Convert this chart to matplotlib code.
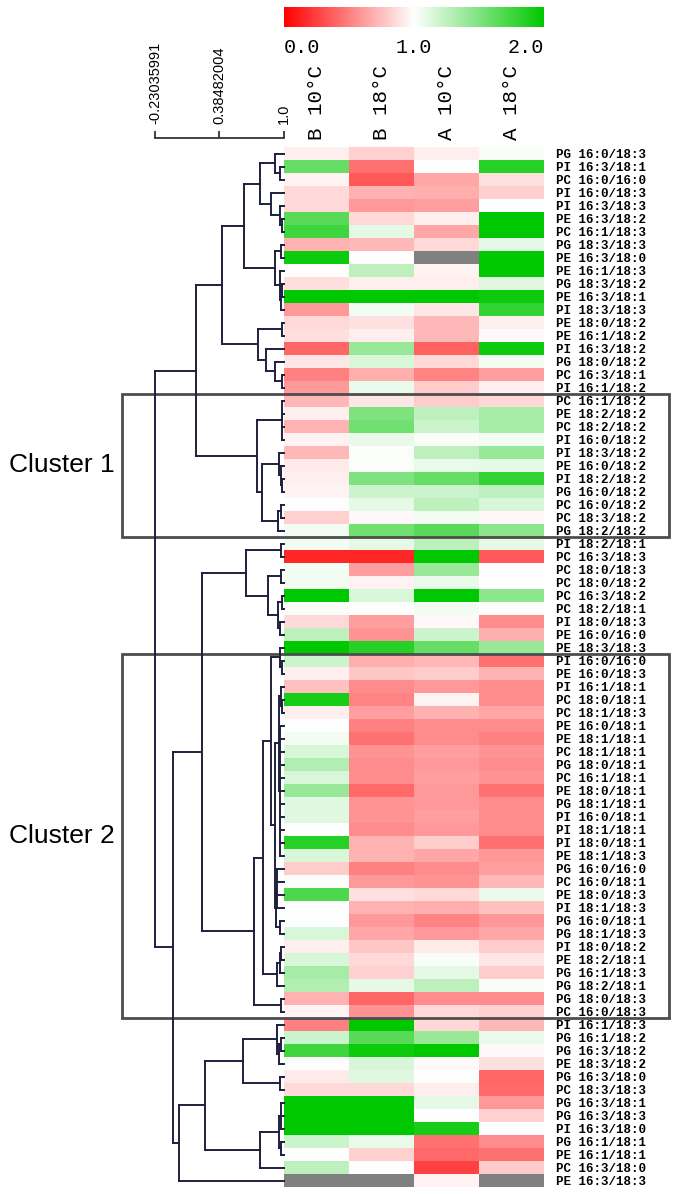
import numpy as np
import matplotlib
matplotlib.use('Agg')
import matplotlib.pyplot as plt
import matplotlib.transforms as mtransforms
from matplotlib.colors import LinearSegmentedColormap, Normalize
from matplotlib.cm import ScalarMappable
from matplotlib.collections import LineCollection
from matplotlib.patches import Rectangle

plt.rcParams['font.family'] = ['Liberation Sans', 'DejaVu Sans']

nan = np.nan
W, H = 675, 1194

# column (sample) labels and row (lipid species) labels, top to bottom
columns = ['B 10°C', 'B 18°C', 'A 10°C', 'A 18°C']
lipids = [
    'PG 16:0/18:3', 'PI 16:3/18:1', 'PC 16:0/16:0', 'PI 16:0/18:3', 'PI 16:3/18:3',
    'PE 16:3/18:2', 'PC 16:1/18:3', 'PG 18:3/18:3', 'PE 16:3/18:0', 'PE 16:1/18:3',
    'PG 18:3/18:2', 'PE 16:3/18:1', 'PI 18:3/18:3', 'PE 18:0/18:2', 'PE 16:1/18:2',
    'PI 16:3/18:2', 'PG 18:0/18:2', 'PC 16:3/18:1', 'PI 16:1/18:2',
    'PC 16:1/18:2', 'PE 18:2/18:2', 'PC 18:2/18:2', 'PI 16:0/18:2', 'PI 18:3/18:2',
    'PE 16:0/18:2', 'PI 18:2/18:2', 'PG 16:0/18:2', 'PC 16:0/18:2', 'PC 18:3/18:2',
    'PG 18:2/18:2',
    'PI 18:2/18:1', 'PC 16:3/18:3', 'PC 18:0/18:3', 'PC 18:0/18:2', 'PC 16:3/18:2',
    'PC 18:2/18:1', 'PI 18:0/18:3', 'PE 16:0/16:0', 'PE 18:3/18:3',
    'PI 16:0/16:0', 'PE 16:0/18:3', 'PI 16:1/18:1', 'PC 18:0/18:1', 'PC 18:1/18:3',
    'PE 16:0/18:1', 'PE 18:1/18:1', 'PC 18:1/18:1', 'PG 18:0/18:1', 'PC 16:1/18:1',
    'PE 18:0/18:1', 'PG 18:1/18:1', 'PI 16:0/18:1', 'PI 18:1/18:1', 'PI 18:0/18:1',
    'PE 18:1/18:3', 'PG 16:0/16:0', 'PC 16:0/18:1', 'PE 18:0/18:3', 'PI 18:1/18:3',
    'PG 16:0/18:1', 'PG 18:1/18:3', 'PI 18:0/18:2', 'PE 18:2/18:1', 'PG 16:1/18:3',
    'PG 18:2/18:1', 'PG 18:0/18:3', 'PC 16:0/18:3',
    'PI 16:1/18:3', 'PG 16:1/18:2', 'PG 16:3/18:2', 'PE 18:3/18:2', 'PG 16:3/18:0',
    'PC 18:3/18:3', 'PG 16:3/18:1', 'PG 16:3/18:3', 'PI 16:3/18:0', 'PG 16:1/18:1',
    'PE 16:1/18:1', 'PC 16:3/18:0', 'PE 16:3/18:3',
]

# relative levels per sample (0 = red, 1 = white, 2 = green, nan = grey)
b10 = [0.93, 1.6, 0.95, 0.85, 0.85, 1.65, 1.75, 0.7, 1.95, 1.0,
       0.87, 2.0, 0.6, 0.85, 0.87, 0.4, 0.9, 0.5, 0.6,
       0.72, 0.93, 0.7, 0.95, 0.72, 0.92, 0.93, 0.96, 1.0, 0.82, 1.05,
       1.05, 0.15, 1.05, 1.05, 2.0, 1.03, 0.85, 1.25, 2.0,
       1.2, 0.93, 0.75, 1.9, 0.93, 1.0, 1.05, 1.15, 1.3, 1.15, 1.4, 1.12, 1.12, 1.0,
       1.85, 1.15, 0.8, 1.02, 1.7,
       1.0, 1.0, 1.15, 0.93, 1.15, 1.35, 1.3, 0.7, 0.95,
       0.5, 1.2, 1.75, 1.0, 0.92, 0.85, 2.0, 2.0, 2.0, 1.2, 1.0, 1.25, nan]
b18 = [0.82, 0.45, 0.35, 0.7, 0.6, 0.85, 1.1, 0.72, 1.0, 1.25,
       0.93, 2.0, 1.05, 0.88, 0.93, 1.4, 1.15, 0.68, 1.08,
       0.9, 1.5, 1.55, 1.08, 1.02, 1.02, 1.5, 1.2, 1.1, 0.97, 1.55,
       1.1, 0.15, 0.62, 0.95, 1.15, 1.0, 0.62, 0.58, 1.85,
       0.68, 0.78, 0.55, 0.52, 0.62, 0.5, 0.45, 0.58, 0.55, 0.55, 0.42, 0.58, 0.58, 0.55,
       0.7, 0.7, 0.5, 0.6, 0.88,
       0.7, 0.6, 0.65, 0.78, 0.85, 0.82, 1.1, 0.4, 0.58,
       2.0, 1.65, 1.95, 1.15, 1.12, 0.85, 2.0, 2.0, 2.0, 1.08, 0.82, 1.0, nan]
a10 = [0.93, 1.0, 0.65, 0.68, 0.62, 0.93, 0.65, 0.85, nan, 0.95,
       0.93, 2.0, 0.9, 0.72, 0.72, 0.38, 0.85, 0.52, 0.8,
       0.8, 1.25, 1.2, 1.03, 1.25, 1.08, 1.6, 1.2, 1.25, 1.05, 1.65,
       1.25, 2.0, 1.4, 1.08, 2.0, 1.05, 0.97, 1.2, 1.6,
       0.72, 0.8, 0.6, 0.95, 0.7, 0.55, 0.55, 0.62, 0.6, 0.62, 0.6, 0.6, 0.62, 0.6,
       0.8, 0.65, 0.55, 0.58, 0.85,
       0.68, 0.52, 0.6, 0.92, 1.03, 1.1, 1.25, 0.55, 0.85,
       0.85, 1.4, 2.0, 0.98, 1.0, 0.93, 1.1, 1.0, 1.9, 0.45, 0.42, 0.25, 0.95]
a18 = [1.03, 1.85, 0.88, 0.82, 1.0, 2.0, 2.0, 1.1, 2.0, 2.0,
       1.12, 1.95, 1.8, 0.93, 0.98, 1.95, 1.05, 0.62, 0.93,
       0.85, 1.35, 1.35, 1.05, 1.4, 1.1, 1.8, 1.25, 1.15, 0.97, 1.45,
       1.1, 0.35, 1.0, 1.0, 1.45, 1.0, 0.55, 0.68, 1.4,
       0.45, 0.7, 0.55, 0.55, 0.65, 0.55, 0.5, 0.58, 0.55, 0.58, 0.45, 0.55, 0.55, 0.55,
       0.45, 0.6, 0.62, 0.72, 1.08,
       0.75, 0.6, 0.65, 0.8, 0.9, 0.8, 1.03, 0.55, 0.82,
       0.72, 1.08, 0.97, 0.88, 0.4, 0.42, 0.6, 0.82, 1.0, 0.55, 0.45, 0.8, nan]

# row dendrogram: [similarity, child, child, ...], leaves are row numbers (1-based)
top_tree = [0.16,
            [0.41,
             [0.62,
              [0.77, [0.91, 1, [0.96, 2, 3]], [0.88, 4, [0.96, 5, [0.98, 6, 7]]]],
              [0.91, [0.97, 8, 9], [0.96, 10, [0.97, [0.98, 11, 12], 13]]]],
             [0.755, [0.98, 14, 15], [0.83, 16, [0.91, 17, [0.98, 18, 19]]]]],
            [0.74, [0.98, 20, 21, 22, 23],
             [0.79, [0.955, 24, [0.97, 25, [0.98, 26, 27]]], [0.94, [0.97, 28, 29], 30]]]]
mid_tree = [0.22,
            [0.64, [0.97, 31, 32], [0.85, [0.97, 33, 34], [0.94, [0.98, 35, 36], [0.96, 37, 38]]]],
            [0.71,
             [0.80,
              [0.88, [0.96, 39, [0.98, 40, 41]],
               [0.91,
                [0.95, [0.97, 42, [0.98, 43, 44]],
                 [0.965, 45, 46, 47, 48, 49, 50, 51, 52, 53, 54, 55]],
                [0.92, [0.93, 56, 57, 58, 59], [0.96, 60, 61]]]],
              [0.93, [0.96, [0.97, 62, 63], 64], 65]],
             [0.97, 66, 67]]]
low_tree = [0.0,
            [0.25,
             [0.61, [0.93, 68, [0.95, [0.97, 69, 70], 71]], [0.96, 72, 73]],
             [0.77, [0.95, [0.97, 74, 75, 76], [0.97, 77, 78]], 79]],
            80]
tree = [-0.23035991, top_tree, [-0.06, mid_tree, low_tree]]

scale_ticks = [-0.23035991, 0.38482004, 1.0]
scale_labels = ['-0.23035991', '0.38482004', '1.0']
clusters = [('Cluster 1', 20, 30), ('Cluster 2', 40, 67)]


def box(x0, y0, x1, y1):
    return fig.add_axes([x0 / W, 1 - y1 / H, (x1 - x0) / W, (y1 - y0) / H])


fig = plt.figure(figsize=(W / 100, H / 100), dpi=100)
fig.patch.set_facecolor('white')

cmap = LinearSegmentedColormap.from_list('rwg', ['#ff0000', '#ffffff', '#00c800'])
cmap.set_bad('#808080')
norm = Normalize(0, 2)
n = len(lipids)

# heatmap
ax = box(284, 147, 544, 1187)
data = np.array([b10, b18, a10, a18], dtype=float).T
ax.imshow(np.ma.masked_invalid(data), cmap=cmap, norm=norm, aspect='auto',
          interpolation='nearest', extent=(-0.5, 3.5, n + 0.5, 0.5))
for s in ax.spines.values():
    s.set_visible(False)
ax.set_xticks(range(len(columns)))
ax.set_xticklabels(columns, rotation=90, family='Liberation Mono', fontsize=15)
ax.xaxis.tick_top()
ax.tick_params(axis='x', length=0, pad=5)
ax.set_yticks(range(1, n + 1))
ax.set_yticklabels(lipids, family='Liberation Mono', fontsize=9, fontweight='bold')
ax.yaxis.tick_right()
ax.tick_params(axis='y', length=0, pad=9)

# dendrogram
tree_color = '#1f1f3f'
ax_tree = box(155, 147, 284, 1187)
ax_tree.set_xlim(scale_ticks[0], 1.0)
ax_tree.set_ylim(n + 0.5, 0.5)
ax_tree.axis('off')
segs = []


def walk(node):
    if isinstance(node, int):
        return node, 1.0
    s = node[0]
    kids = [walk(k) for k in node[1:]]
    ys = [k[0] for k in kids]
    for y, ks in kids:
        segs.append([(ks, y), (s, y)])
    segs.append([(s, min(ys)), (s, max(ys))])
    return (ys[0] + ys[-1]) / 2, s


walk(tree)
ax_tree.add_collection(LineCollection(segs, colors=tree_color, linewidths=1.4,
                                      capstyle='projecting', clip_on=False))

# similarity scale
ax_sc = box(155, 137, 284, 138)
ax_sc.set_xlim(scale_ticks[0], 1.0)
for k in ['top', 'left', 'right']:
    ax_sc.spines[k].set_visible(False)
ax_sc.spines['bottom'].set_color('#333333')
ax_sc.spines['bottom'].set_linewidth(1.3)
ax_sc.set_yticks([])
ax_sc.set_xticks(scale_ticks)
ax_sc.set_xticklabels(scale_labels, rotation=90, fontsize=10.5)
ax_sc.tick_params(axis='x', direction='in', length=5, width=1.3, color='#333333',
                  bottom=True, top=False, labelbottom=False, labeltop=True, pad=9)

# colour key
cax = box(284, 7, 544, 27)
cb = fig.colorbar(ScalarMappable(norm=norm, cmap=cmap), cax=cax, orientation='horizontal')
cb.outline.set_visible(False)
cb.set_ticks([0, 1, 2])
cb.set_ticklabels(['0.0', '1.0', '2.0'])
cax.tick_params(length=0, pad=8, labelsize=14.5)
for t in cax.get_xticklabels():
    t.set_family('Liberation Mono')
labs = cax.get_xticklabels()
labs[0].set_ha('left')
labs[-1].set_ha('right')

# cluster boxes
tr = mtransforms.blended_transform_factory(fig.transFigure, ax.transData)
for name, r0, r1 in clusters:
    ax.add_patch(Rectangle((122 / W, r0 - 0.5), (669 - 122) / W, r1 - r0 + 1,
                           transform=tr, fill=False, ec='#4d4d4d', lw=2,
                           clip_on=False, zorder=5))
    ax.text(9 / W, (r0 + r1) / 2, name, transform=tr, ha='left', va='center',
            fontsize=19, color='black')

fig.savefig('out.png', dpi=100)
